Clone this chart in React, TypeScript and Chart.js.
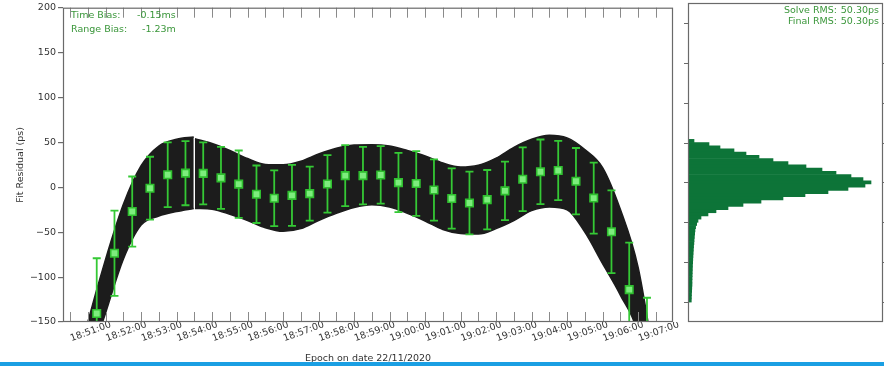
import React, { useEffect, useRef } from 'react';
import { Chart, registerables } from 'chart.js';

Chart.register(...registerables);

// ---------- data ----------
const X_TICK_LABELS = [
  '18:51:00', '18:52:00', '18:53:00', '18:54:00', '18:55:00', '18:56:00', '18:57:00', '18:58:00', '18:59:00',
  '19:00:00', '19:01:00', '19:02:00', '19:03:00', '19:04:00', '19:05:00', '19:06:00', '19:07:00',
];
const Y_TICKS = [-150, -100, -50, 0, 50, 100, 150, 200];

// band of residuals (upper / lower envelope), times as hh:mm:ss
const BAND_TIMES = [
  '18:50:30', '18:51:00', '18:51:30', '18:52:00', '18:52:30', '18:53:00', '18:53:30', '18:53:59', '18:54:00',
  '18:54:01', '18:54:30', '18:55:00', '18:55:30', '18:56:00', '18:56:30', '18:57:00', '18:57:30', '18:58:00',
  '18:58:30', '18:59:00', '18:59:30', '19:00:00', '19:00:30', '19:01:00', '19:01:30', '19:02:00', '19:02:30',
  '19:03:00', '19:03:30', '19:04:00', '19:04:30', '19:05:00', '19:05:30', '19:06:00', '19:06:30', '19:07:00',
];
const BAND_UPPER = [
  -230, -150, -80, -19, 24, 46, 53.5, 56, null,
  54, 48.7, 41, 32, 25.5, 25, 29, 37, 43.5,
  47, 47.5, 46, 41, 35, 27, 22.5, 24.5, 32.5,
  44.5, 53.5, 58, 55, 42, 22, -24.5, -89, -203,
];
const BAND_LOWER = [
  -300, -202, -140, -80, -42, -32, -27, -23.5, null,
  -23.5, -24.5, -30, -37, -45, -49, -46, -37, -29,
  -22.5, -19.5, -22, -29, -37.5, -47, -51.5, -52, -46,
  -37, -26, -22, -25, -50, -85, -120, -165, -280,
];

// binned normal points with error bars
const POINT_TIMES = [
  '18:51:15', '18:51:45', '18:52:15', '18:52:45', '18:53:15', '18:53:45', '18:54:15', '18:54:45',
  '18:55:15', '18:55:45', '18:56:15', '18:56:45', '18:57:15', '18:57:45', '18:58:15', '18:58:45',
  '18:59:15', '18:59:45', '19:00:15', '19:00:45', '19:01:15', '19:01:45', '19:02:15', '19:02:45',
  '19:03:15', '19:03:45', '19:04:15', '19:04:45', '19:05:15', '19:05:45', '19:06:15', '19:06:45',
];
const POINT_MEAN = [
  -140.5, -73.5, -27, -1, 14, 15.75, 15.5, 10.5,
  3.5, -7.75, -12.25, -9, -7, 3.75, 13, 13,
  13.75, 5.25, 4.25, -3, -12.5, -17.5, -13.75, -4,
  9, 17.25, 18.75, 6.75, -12, -49.5, -114, -180,
];
const POINT_ERR = [
  61.5, 47.5, 39, 35, 36, 35.75, 34.5, 34.5,
  37.5, 32, 31, 34, 30, 32, 34, 32,
  32, 33, 36, 34, 33.5, 35, 33, 32.5,
  35.5, 36, 33, 37, 39.5, 46, 52.5, 57,
];

// histogram of residuals (4 ps bins)
const HIST_CENTERS = [
  56, 52, 48, 44, 40, 36, 32, 28, 24, 20, 16, 12, 8, 4, 0, -4, -8, -12, -16, -20, -24, -28, -32, -36,
  -40, -44, -48, -52, -56, -60, -64, -68, -72, -76, -80, -84, -88, -92, -96, -100, -104, -108, -112,
  -116, -120, -124, -128, -132, -136, -140, -144, -148,
];
const HIST_COUNTS = [
  5, 60, 210, 320, 460, 580, 710, 850, 1000, 1180, 1340, 1480, 1630, 1750, 1830, 1770, 1600, 1400, 1170, 950,
  730, 550, 400, 280, 200, 130, 100, 87, 76, 70, 67, 64, 61, 59, 56, 54, 52, 50, 48, 47, 45, 44, 43,
  42, 41, 40, 40, 38, 37, 35, 34, 33,
];

const BIAS_LABELS = ['Time Bias:', 'Range Bias:'];
const BIAS_VALUES = ['-0.15ms', '-1.23m'];
const RMS_LABELS = ['Solve RMS:', 'Final RMS:'];
const RMS_VALUES = ['50.30ps', '50.30ps'];
const X_TITLE = 'Epoch on date 22/11/2020';
const Y_TITLE = 'Fit Residual (ps)';

// ---------- helpers ----------
const REF = 18 * 3600 + 50 * 60; // seconds of 18:50:00
const toSec = (s: string) => {
  const [h, m, sec] = s.split(':').map(Number);
  return h * 3600 + m * 60 + sec - REF;
};
const LABEL_SECS = X_TICK_LABELS.map(toSec);
const ALL_TICK_SECS = LABEL_SECS.flatMap((v) => [v - 30, v]);

const X_MIN = 18;
const X_MAX = 1049;

const FONT = 'DejaVu Sans';
const TEXT_GREEN = '#3a963a';
const FRAME = '#6a6a6a';

Chart.defaults.font.family = FONT;

const frameMain = {
  id: 'frameMain',
  afterDraw(chart: any) {
    const { ctx, chartArea: a, scales } = chart;
    const x = scales.x;
    ctx.save();
    ctx.strokeStyle = '#8a8a8a';
    ctx.lineWidth = 1;
    ALL_TICK_SECS.forEach((t) => {
      if (t < X_MIN || t > X_MAX) return;
      const px = Math.round(x.getPixelForValue(t)) + 0.5;
      ctx.beginPath();
      ctx.moveTo(px, a.bottom);
      ctx.lineTo(px, a.bottom - 10);
      ctx.moveTo(px, a.top);
      ctx.lineTo(px, a.top + 10);
      ctx.stroke();
    });
    ctx.strokeStyle = FRAME;
    ctx.lineWidth = 1.2;
    ctx.strokeRect(a.left + 0.5, a.top + 0.5, a.width - 1, a.height - 1);
    ctx.fillStyle = TEXT_GREEN;
    ctx.font = `9.5px ${FONT}`;
    ctx.textBaseline = 'middle';
    ctx.textAlign = 'left';
    const rows = [15.5, 30];
    const valX = [137, 142];
    BIAS_LABELS.forEach((l, i) => {
      ctx.fillText(l, a.left + 8, rows[i]);
      ctx.fillText(BIAS_VALUES[i], valX[i], rows[i]);
    });
    ctx.restore();
  },
};

const errorBars = {
  id: 'errorBars',
  beforeDatasetDraw(chart: any, args: any) {
    if (args.index !== 2) return;
    const { ctx, chartArea: a, scales } = chart;
    const x = scales.x;
    const y = scales.y;
    ctx.save();
    ctx.beginPath();
    ctx.rect(a.left, a.top, a.width, a.height);
    ctx.clip();
    ctx.strokeStyle = '#35c935';
    ctx.lineWidth = 1.8;
    POINT_TIMES.forEach((s, i) => {
      const px = x.getPixelForValue(toSec(s));
      const y1 = y.getPixelForValue(POINT_MEAN[i] + POINT_ERR[i]);
      const y2 = y.getPixelForValue(POINT_MEAN[i] - POINT_ERR[i]);
      ctx.beginPath();
      ctx.moveTo(px, y1);
      ctx.lineTo(px, y2);
      ctx.moveTo(px - 4, y1);
      ctx.lineTo(px + 4, y1);
      ctx.moveTo(px - 4, y2);
      ctx.lineTo(px + 4, y2);
      ctx.stroke();
    });
    ctx.restore();
  },
};

const frameHist = {
  id: 'frameHist',
  afterDraw(chart: any) {
    const { ctx, chartArea: a, scales } = chart;
    const y = scales.y;
    ctx.save();
    ctx.strokeStyle = FRAME;
    ctx.lineWidth = 1.2;
    Y_TICKS.forEach((v) => {
      const py = Math.round(y.getPixelForValue(v)) + 0.5;
      ctx.beginPath();
      ctx.moveTo(a.left - 4, py);
      ctx.lineTo(a.left, py);
      ctx.moveTo(a.right, py);
      ctx.lineTo(a.right + 4, py);
      ctx.stroke();
    });
    ctx.strokeRect(a.left + 0.5, a.top + 0.5, a.width - 1, a.height - 1);
    ctx.fillStyle = TEXT_GREEN;
    ctx.font = `9.5px ${FONT}`;
    ctx.textBaseline = 'middle';
    ctx.textAlign = 'right';
    const rows = [10.5, 21.5];
    RMS_LABELS.forEach((l, i) => {
      ctx.fillText(l, 157, rows[i]);
      ctx.fillText(RMS_VALUES[i], 199, rows[i]);
    });
    ctx.restore();
  },
};

export default function App() {
  const mainRef = useRef<HTMLCanvasElement>(null);
  const histRef = useRef<HTMLCanvasElement>(null);

  useEffect(() => {
    const bandTimes = BAND_TIMES.map(toSec);
    const main = new Chart(mainRef.current as HTMLCanvasElement, {
      type: 'line',
      data: {
        datasets: [
          {
            data: bandTimes.map((t, i) => ({ x: t, y: BAND_UPPER[i] })) as any,
            borderColor: '#1c1c1c',
            backgroundColor: '#1c1c1c',
            borderWidth: 1.5,
            pointRadius: 0,
            fill: '+1',
            cubicInterpolationMode: 'monotone',
            spanGaps: false,
            order: 2,
          },
          {
            data: bandTimes.map((t, i) => ({ x: t, y: BAND_LOWER[i] })) as any,
            borderColor: '#1c1c1c',
            backgroundColor: '#1c1c1c',
            borderWidth: 1.5,
            pointRadius: 0,
            fill: false,
            cubicInterpolationMode: 'monotone',
            spanGaps: false,
            order: 1,
          },
          {
            data: POINT_TIMES.map((s, i) => ({ x: toSec(s), y: POINT_MEAN[i] })),
            showLine: false,
            pointStyle: 'rect',
            pointRadius: 5.3,
            pointBorderWidth: 1.6,
            pointBackgroundColor: '#7ded7d',
            pointBorderColor: '#2fbf2f',
            order: 0,
          },
        ],
      },
      options: {
        animation: false,
        responsive: false,
        maintainAspectRatio: false,
        layout: { padding: { top: 3, right: 7, left: 0, bottom: 0 } },
        plugins: { legend: { display: false }, tooltip: { enabled: false } },
        scales: {
          x: {
            type: 'linear',
            min: X_MIN,
            max: X_MAX,
            afterBuildTicks: (s: any) => {
              s.ticks = ALL_TICK_SECS.map((v) => ({ value: v }));
            },
            afterFit: (s: any) => {
              s.height = 44;
            },
            grid: { display: false, drawTicks: false },
            border: { display: false },
            ticks: {
              autoSkip: false,
              minRotation: 20,
              maxRotation: 20,
              padding: -3,
              labelOffset: 23,
              color: '#333',
              font: { size: 9.5, family: FONT },
              callback: (v: any) => {
                const idx = LABEL_SECS.indexOf(Number(v));
                return idx >= 0 ? X_TICK_LABELS[idx] : '';
              },
            },
            title: {
              display: true,
              text: X_TITLE,
              color: '#333',
              font: { size: 9.5, family: FONT },
              padding: { top: 0, bottom: 2 },
            },
          },
          y: {
            type: 'linear',
            min: Y_TICKS[0],
            max: Y_TICKS[Y_TICKS.length - 1],
            afterBuildTicks: (s: any) => {
              s.ticks = Y_TICKS.map((v) => ({ value: v }));
            },
            afterFit: (s: any) => {
              s.width = 63;
            },
            grid: { display: true, drawOnChartArea: false, drawTicks: true, tickLength: 5, color: FRAME, lineWidth: 1.2 },
            border: { display: false },
            ticks: {
              padding: 2,
              color: '#333',
              font: { size: 9.5, family: FONT },
              callback: (v: any) => String(v).replace('-', '\u2212'),
            },
            title: {
              display: true,
              text: Y_TITLE,
              color: '#333',
              font: { size: 9.5, family: FONT },
              padding: { top: 15, bottom: 0 },
            },
          },
        },
      },
      plugins: [errorBars, frameMain],
    } as any);

    const hist = new Chart(histRef.current as HTMLCanvasElement, {
      type: 'bar',
      data: {
        datasets: [
          {
            data: HIST_CENTERS.map((c, i) => ({ x: HIST_COUNTS[i], y: c })) as any,
            backgroundColor: '#0d7438',
            borderWidth: 0,
            barPercentage: 1,
            categoryPercentage: 1,
          },
        ],
      },
      options: {
        indexAxis: 'y',
        animation: false,
        responsive: false,
        maintainAspectRatio: false,
        layout: { padding: { left: 8, right: 1, top: 3, bottom: 44 } },
        plugins: { legend: { display: false }, tooltip: { enabled: false } },
        scales: {
          x: { type: 'linear', min: 0, max: 1950, display: false },
          y: { type: 'linear', min: Y_TICKS[0], max: Y_TICKS[Y_TICKS.length - 1], display: false },
        },
      },
      plugins: [frameHist],
    } as any);

    return () => {
      main.destroy();
      hist.destroy();
    };
  }, []);

  return (
    <div
      style={{
        position: 'fixed',
        left: 0,
        top: 0,
        width: 884,
        height: 366,
        background: '#fff',
        overflow: 'hidden',
      }}
    >
      <canvas ref={mainRef} width={680} height={366} style={{ position: 'absolute', left: 0, top: 0, width: 680, height: 366 }} />
      <canvas ref={histRef} width={204} height={366} style={{ position: 'absolute', left: 680, top: 0, width: 204, height: 366 }} />
      <div style={{ position: 'absolute', left: 0, top: 362, width: 884, height: 4, background: '#1a9fe3' }} />
    </div>
  );
}
